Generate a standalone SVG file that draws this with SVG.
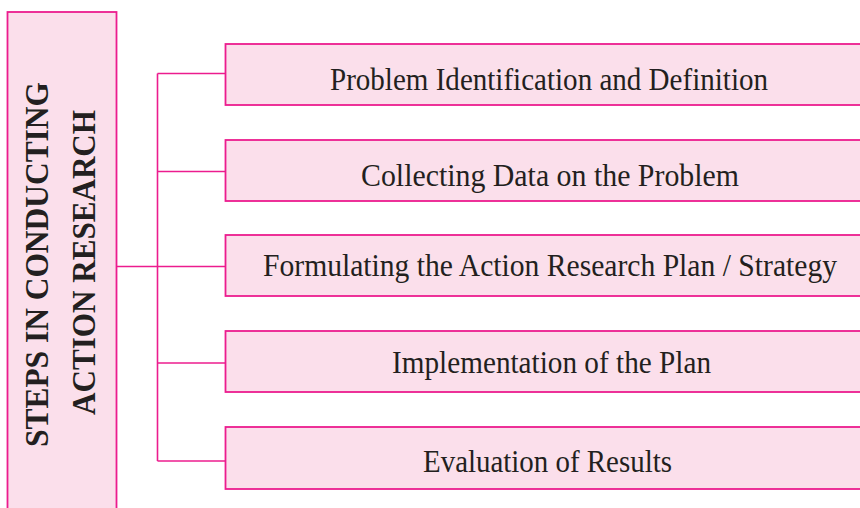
<svg xmlns="http://www.w3.org/2000/svg" width="860" height="508" viewBox="0 0 860 508">
  <style>
    .box { fill: #fbdfeb; stroke: #ec1c8e; stroke-width: 1.8; }
    .wire { fill: none; stroke: #ec1c8e; stroke-width: 1.6; }
    .step { font-family: "Liberation Serif", serif; font-size: 32px; fill: #231f20; text-anchor: middle; }
    .title { font-family: "Liberation Serif", serif; font-size: 34px; font-weight: bold; fill: #231f20; text-anchor: middle; }
  </style>

  <!-- vertical title panel -->
  <g id="title">
    <rect class="box" x="7.5" y="12" width="109" height="520"/>
    <text class="title" transform="translate(48,264.5) rotate(-90)" textLength="365" lengthAdjust="spacingAndGlyphs">STEPS IN CONDUCTING</text>
    <text class="title" transform="translate(95,262.5) rotate(-90)" textLength="305" lengthAdjust="spacingAndGlyphs">ACTION RESEARCH</text>
  </g>

  <!-- connectors: trunk from the panel, spine, and one branch per step -->
  <g id="connectors">
    <path class="wire" d="M116.5 266.5 H157.5"/>
    <path class="wire" d="M157.5 73.5 V461"/>
    <path class="wire" d="M157.5 73.5 H225.5"/>
    <path class="wire" d="M157.5 171.5 H225.5"/>
    <path class="wire" d="M157.5 266.5 H225.5"/>
    <path class="wire" d="M157.5 363 H225.5"/>
    <path class="wire" d="M157.5 461 H225.5"/>
  </g>

  <g id="step1">
    <rect class="box" x="225.5" y="44" width="650" height="61"/>
    <text class="step" x="549" y="89.5" textLength="438" lengthAdjust="spacingAndGlyphs">Problem Identification and Definition</text>
  </g>

  <g id="step2">
    <rect class="box" x="225.5" y="140" width="650" height="61"/>
    <text class="step" x="550" y="185.5" textLength="378" lengthAdjust="spacingAndGlyphs">Collecting Data on the Problem</text>
  </g>

  <g id="step3">
    <rect class="box" x="225.5" y="235" width="650" height="61"/>
    <text class="step" x="550" y="276" textLength="574" lengthAdjust="spacingAndGlyphs">Formulating the Action Research Plan / Strategy</text>
  </g>

  <g id="step4">
    <rect class="box" x="225.5" y="331" width="650" height="61"/>
    <text class="step" x="551.5" y="372.5" textLength="319" lengthAdjust="spacingAndGlyphs">Implementation of the Plan</text>
  </g>

  <g id="step5">
    <rect class="box" x="225.5" y="427" width="650" height="62"/>
    <text class="step" x="547.5" y="472" textLength="249" lengthAdjust="spacingAndGlyphs">Evaluation of Results</text>
  </g>
</svg>
